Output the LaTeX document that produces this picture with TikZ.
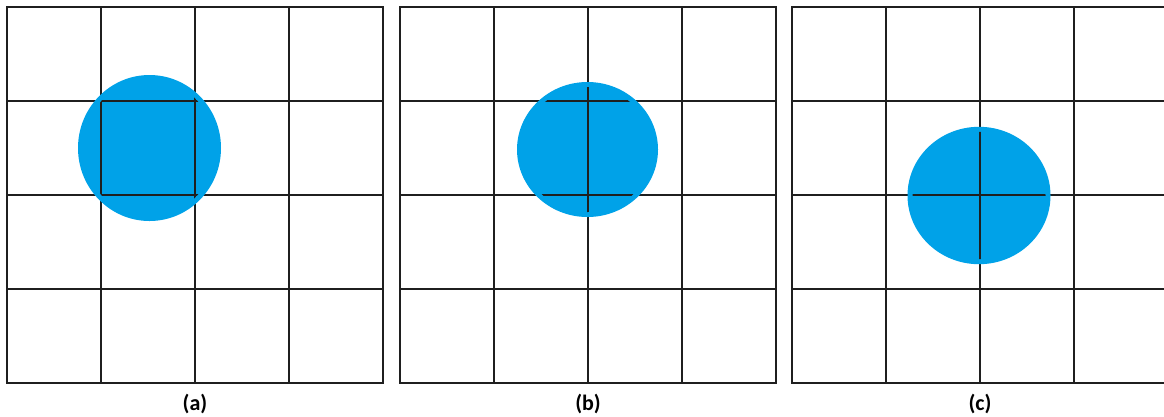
\documentclass[tikz,border=0pt]{standalone}
\usepackage{fontspec}
\setsansfont{Carlito}
\definecolor{dotblue}{RGB}{0,162,232}
\begin{document}
\begin{tikzpicture}[x=1pt,y=-1pt]
    \tikzset{
        gridline/.style={line width=1.9pt,black!88},
        blob/.style={fill=dotblue},
        panellabel/.style={font=\sffamily\bfseries\fontsize{22}{26}\selectfont,anchor=base}
    }

    \useasboundingbox (0,0) rectangle (1164,416);

    \foreach \gx/\cx/\cy/\rx/\ry/\lab in {7/149.5/148/71.5/73/a,
                                          400/587.5/149.5/70.5/67.5/b,
                                          792/979/195.5/71.5/68.7/c} {
        \draw[gridline] (\gx,7) rectangle (\gx+376,383);
        \foreach \i in {1,2,3} {
            \draw[gridline] (\gx+94*\i,7) -- (\gx+94*\i,383);
            \draw[gridline] (\gx,7+94*\i) -- (\gx+376,7+94*\i);
        }

        \fill[blob] (\cx,\cy) ellipse [x radius=\rx, y radius=\ry];
        \begin{scope}
            \clip (\cx,\cy) ellipse [x radius=\rx-5, y radius=\ry-5];
            \foreach \i in {1,2,3} {
                \draw[gridline] (\gx+94*\i,7) -- (\gx+94*\i,383);
                \draw[gridline] (\gx,7+94*\i) -- (\gx+376,7+94*\i);
            }
        \end{scope}

        \node[panellabel] (label-\lab) at (\gx+188,410) {(\lab)};
    }
\end{tikzpicture}
\end{document}
